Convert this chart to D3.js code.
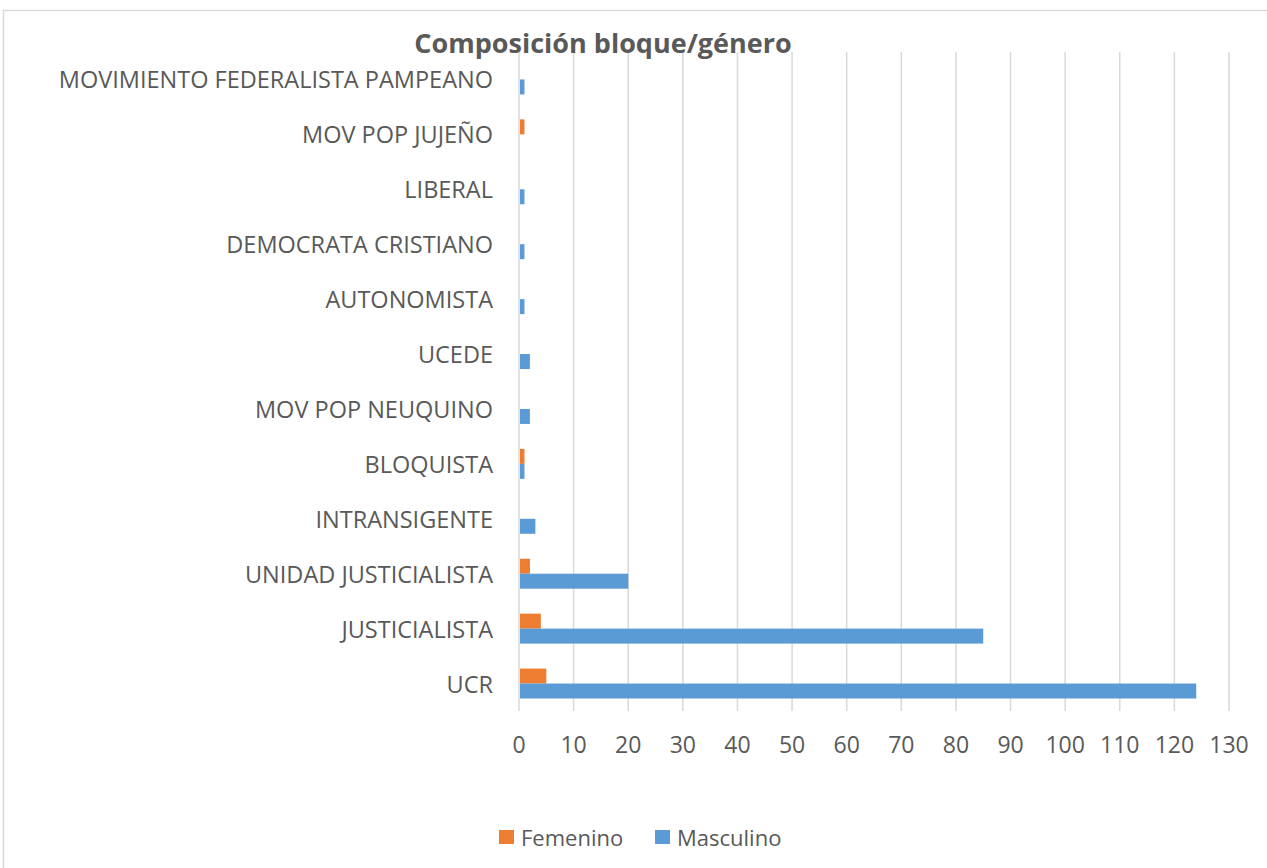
<!DOCTYPE html>
<html><head><meta charset="utf-8">
<script src="https://cdn.jsdelivr.net/npm/d3@7"></script>
<style>body{margin:0;background:#fff}svg{display:block}</style>
</head><body>
<script>
const categories = ["UCR","JUSTICIALISTA","UNIDAD JUSTICIALISTA","INTRANSIGENTE","BLOQUISTA","MOV POP NEUQUINO","UCEDE","AUTONOMISTA","DEMOCRATA CRISTIANO","LIBERAL","MOV POP JUJEÑO","MOVIMIENTO FEDERALISTA PAMPEANO"];
const femenino  = [5, 4, 2, 0, 1, 0, 0, 0, 0, 0, 1, 0];
const masculino = [124, 85, 20, 3, 1, 2, 2, 1, 1, 1, 0, 1];
const seriesNames = ["Femenino","Masculino"];
const seriesColors = ["#ED7D31","#5B9BD5"];
const xTicks = [0,10,20,30,40,50,60,70,80,90,100,110,120,130];
const title = "Composición bloque/género";

const W = 1267, H = 868;
const svg = d3.select("body").append("svg").attr("width", W).attr("height", H);
const font = "'Open Sans', 'Liberation Sans', sans-serif";

// outer chart border
svg.append("rect").attr("x",3.5).attr("y",10.5).attr("width",W+10).attr("height",H+10)
  .attr("fill","none").attr("stroke","#D9D9D9").attr("stroke-width",1.5);

const pL = 519, pR = 1229, pT = 52, pB = 711;
const x = d3.scaleLinear().domain([0,130]).range([pL,pR]);
const y = d3.scaleBand().domain(categories).range([pB, pT]).paddingInner(0.4545).paddingOuter(0.2273);
const ySub = d3.scaleBand().domain(seriesNames).range([0, y.bandwidth()]);

// gridlines
svg.append("g").selectAll("line").data(xTicks).join("line")
  .attr("x1", d=>x(d)).attr("x2", d=>x(d)).attr("y1", pT).attr("y2", pB)
  .attr("stroke","#D9D9D9").attr("stroke-width",1.5);

// x tick labels
svg.append("g").selectAll("text").data(xTicks).join("text")
  .attr("x", d=>x(d)).attr("y", 753).attr("text-anchor","middle")
  .attr("font-family",font).attr("font-size",23).attr("fill","#595959").text(d=>d);

// y labels
svg.append("g").selectAll("text").data(categories).join("text")
  .attr("x", 493).attr("y", d=>y(d)+y.bandwidth()/2 + 9).attr("text-anchor","end")
  .attr("font-family",font).attr("font-size",23.5).attr("fill","#595959").text(d=>d);

// bars
const rows = categories.map((c,i)=>({c, vals:[femenino[i], masculino[i]]}));
const g = svg.append("g").selectAll("g").data(rows).join("g")
  .attr("transform", d=>`translate(0,${y(d.c)})`);
g.selectAll("rect").data(d=>d.vals.map((v,k)=>({v,k}))).join("rect")
  .attr("x", x(0)+1).attr("y", d=>ySub(seriesNames[d.k]))
  .attr("width", d=>Math.max(0, x(d.v)-x(0)-1)).attr("height", ySub.bandwidth())
  .attr("fill", d=>seriesColors[d.k]);

// title
svg.append("text").attr("x", 603).attr("y", 53).attr("text-anchor","middle")
  .attr("font-family",font).attr("font-weight","bold").attr("font-size",27)
  .attr("fill","#595959").text(title);

// legend
const legX = [499, 655];
const lg = svg.append("g").selectAll("g").data(seriesNames).join("g")
  .attr("transform",(d,i)=>`translate(${legX[i]},830)`);
lg.append("rect").attr("width",15).attr("height",14).attr("fill",(d,i)=>seriesColors[i]);
lg.append("text").attr("x",22).attr("y",16).attr("font-family",font).attr("font-size",22)
  .attr("fill","#595959").text(d=>d);
</script>
</body></html>
